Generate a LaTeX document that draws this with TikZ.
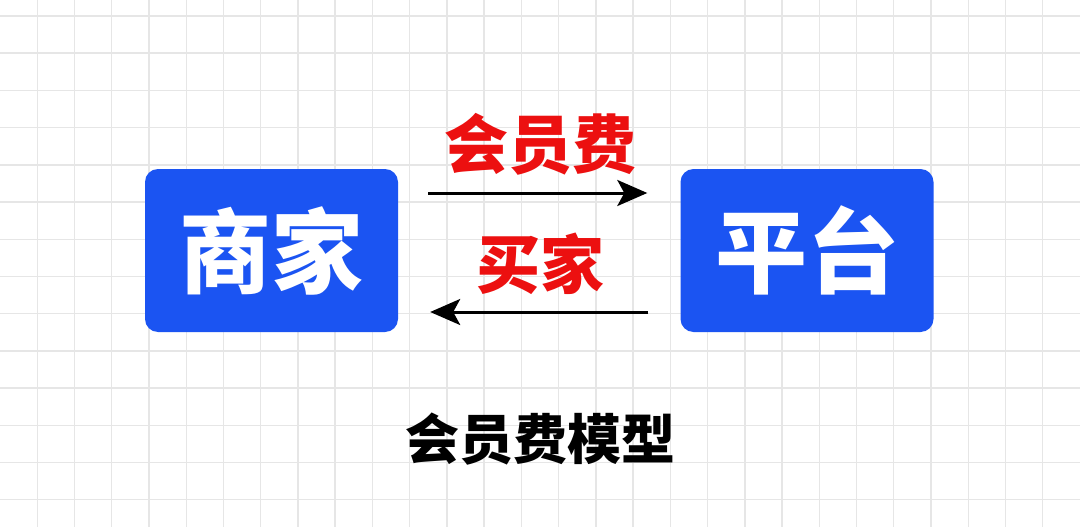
\documentclass[tikz,border=0pt]{standalone}
\usepackage{fontspec}
\newfontfamily\cjk{Noto Sans CJK SC}[BoldFont={Noto Sans CJK SC Black}]
\usetikzlibrary{arrows.meta}
\definecolor{gridc}{RGB}{230,230,230}
\definecolor{boxblue}{RGB}{27,84,242}
\definecolor{lblred}{RGB}{236,16,16}
\tikzset{
  party/.style={draw=none, fill=boxblue, rounded corners=13pt, minimum width=253pt, minimum height=163pt, inner sep=0pt, text=white, font=\cjk\bfseries\fontsize{92}{92}\selectfont},
  flowlbl/.style={inner sep=0pt, text=lblred, font=\cjk\bfseries\fontsize{64}{64}\selectfont},
  titlelbl/.style={inner sep=0pt, text=black, font=\cjk\bfseries\fontsize{54}{54}\selectfont},
  flow/.style={line width=3pt, -{Stealth[length=30pt,width=26pt,inset=7pt]}}
}
\begin{document}
\begin{tikzpicture}[x=1pt,y=-1pt]
\useasboundingbox (0,0) rectangle (1080,527);
\fill[white] (0,0) rectangle (1080,527);
\foreach \i in {1,...,28} {\draw[gridc, line width=1.4pt] ({\i*37.24},0) -- ({\i*37.24},527);}
\foreach \j in {0,...,13} {\draw[gridc, line width=1.4pt] (0,{16+\j*37.2}) -- (1080,{16+\j*37.2});}
\node[party] (m) at (271.5,250.5) {商家};
\node[party] (p) at (807,250.5) {平台};
\node[flowlbl] (fee) at (540,144) {会员费};
\node[flowlbl] (buyer) at (540,264) {买家};
\node[titlelbl] (title) at (540,439) {会员费模型};
\draw[flow] ([xshift=30pt,yshift=57.5pt]m.east) -- ([xshift=-33pt,yshift=57.5pt]p.west);
\draw[flow] ([xshift=-32pt,yshift=-61.5pt]p.west) -- ([xshift=32pt,yshift=-61.5pt]m.east);
\end{tikzpicture}
\end{document}
